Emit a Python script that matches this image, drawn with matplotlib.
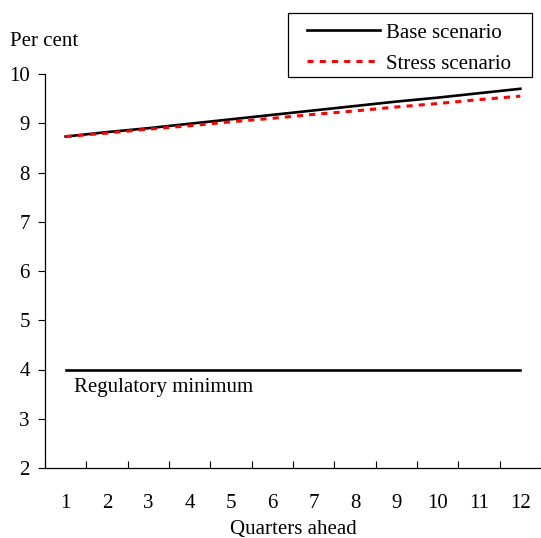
import numpy as np
import matplotlib
matplotlib.use("Agg")
import matplotlib.pyplot as plt
from matplotlib.patches import Rectangle

plt.rcParams['font.family'] = ['Liberation Serif', 'DejaVu Serif']

quarters = [1, 2, 3, 4, 5, 6, 7, 8, 9, 10, 11, 12]
base = [8.73, 8.82, 8.90, 8.99, 9.08, 9.17, 9.26, 9.35, 9.44, 9.52, 9.61, 9.70]
stress = [8.73, 8.80, 8.88, 8.95, 9.03, 9.10, 9.18, 9.25, 9.33, 9.40, 9.48, 9.55]
reg_min = [4] * 12

fs = 15

fig = plt.figure(figsize=(5.41, 5.38), dpi=100)
ax = fig.add_axes([45 / 541, 70 / 538, 1 - 45 / 541, (468 - 74) / 538])

ax.plot(quarters, base, color='black', lw=1.9, label='Base scenario')
ax.plot(quarters, stress, color='red', lw=2.2, ls=(0, (2, 2)), label='Stress scenario')
ax.plot(quarters, reg_min, color='black', lw=1.9)
ax.text(1.2, 3.64, 'Regulatory minimum', fontsize=fs, va='center', ha='left')

ax.set_xlim(0.5, 12.5)
ax.set_ylim(2, 10)
ax.set_yticks(range(2, 11))
ax.tick_params(axis='y', direction='out', length=5, labelsize=fs, pad=6)

# category axis: tick marks between quarters, labels at the centres
ax.set_xticks(np.arange(0.5, 13, 1))
ax.set_xticklabels([])
ax.tick_params(axis='x', which='major', direction='in', length=5)
ax.set_xticks(quarters, minor=True)
ax.set_xticklabels([str(q) for q in quarters], minor=True)
ax.tick_params(axis='x', which='minor', length=0, labelsize=fs, pad=19)

ax.spines['top'].set_visible(False)
ax.spines['right'].set_visible(False)
for s in ['left', 'bottom']:
    ax.spines[s].set_linewidth(0.9)

ax.set_xlabel('Quarters ahead', fontsize=fs, labelpad=5)
fig.text(10 / 541, 1 - 42 / 538, 'Per cent', fontsize=fs, va='center', ha='left')

# legend without its own frame, boxed by a rectangle as in the original
leg = fig.legend(loc='upper left', bbox_to_anchor=(307 / 541, 1 - 23 / 538),
                 fontsize=fs, handlelength=3.5, frameon=False,
                 borderpad=0, labelspacing=0.55, handletextpad=0.3,
                 borderaxespad=0)
fig.patches.append(Rectangle((288 / 541, 1 - 77 / 538), 244 / 541, 64 / 538,
                             transform=fig.transFigure, fill=False,
                             edgecolor='black', lw=0.9))

fig.savefig('out.png', dpi=100)
